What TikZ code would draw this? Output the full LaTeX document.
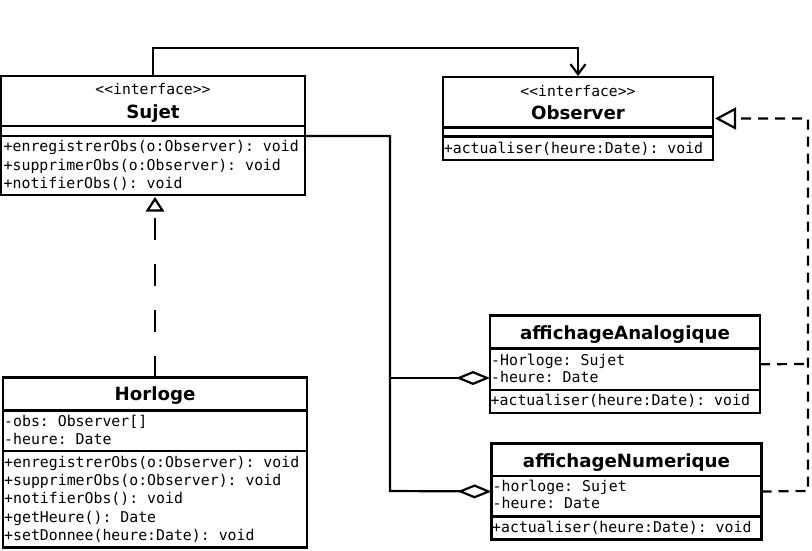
\documentclass[tikz,border=0pt]{standalone}
\usepackage{fontspec}
\setsansfont{DejaVu Sans}
\setmonofont{DejaVu Sans Mono}
\usetikzlibrary{arrows.meta}
\begin{document}
\begin{tikzpicture}[x=1pt,y=-1pt,
  ln/.style={line width=2.2pt, line join=miter},
  box/.style={draw, rectangle, line width=2.2pt, inner sep=0pt, outer sep=0pt, anchor=north west},
  mem/.style={font=\ttfamily\fontsize{14.85}{16}\selectfont, anchor=base west, inner sep=0pt},
  stereo/.style={font=\ttfamily\fontsize{14.7}{16}\selectfont, anchor=base, inner sep=0pt},
  ttl/.style={font=\sffamily\bfseries\fontsize{18.2}{20}\selectfont, anchor=base, inner sep=0pt},
  realA/.style={line width=2.2pt, dash pattern=on 22pt off 24pt},
  realB/.style={line width=2.2pt, dash pattern=on 10pt off 7pt},
]
\fill[white] (0,0) rectangle (812,550);
\useasboundingbox (0,0) rectangle (812,550);

% ---- Sujet ----
\node[box, minimum width=304pt, minimum height=119pt] (sujet) at (1,76) {};
\draw[ln] (1,126) -- (305,126);
\draw[ln] (1,136) -- (305,136);
\node[stereo] (sujetst) at (153,94.7) {<<interface>>};
\node[ttl] (sujett) at (153,118) {Sujet};
\node[mem] (sm1) at (3.5,151.6) {+enregistrerObs(o:Observer): void};
\node[mem] (sm2) at (3.5,170.1) {+supprimerObs(o:Observer): void};
\node[mem] (sm3) at (3.5,188.6) {+notifierObs(): void};

% ---- Observer ----
\node[box, minimum width=270pt, minimum height=83pt] (observer) at (443,77) {};
\draw[ln] (443,127.5) -- (713,127.5);
\draw[ln] (443,136.5) -- (713,136.5);
\node[stereo] (obsst) at (578,96.3) {<<interface>>};
\node[ttl] (obst) at (578,119) {Observer};
\node[mem] (om1) at (443.7,153.6) {+actualiser(heure:Date): void};

% ---- affichageAnalogique ----
\node[box, minimum width=270pt, minimum height=97.5pt] (analog) at (490,315.5) {};
\draw[ln] (490,348.5) -- (760,348.5);
\draw[ln] (490,390) -- (760,390);
\node[ttl] (atitle) at (625,339.6) {affichageAnalogique};
\node[mem] (aa1) at (491,365) {-Horloge: Sujet};
\node[mem] (aa2) at (491,382.6) {-heure: Date};
\node[mem] (am1) at (490.5,405) {+actualiser(heure:Date): void};

% ---- affichageNumerique ----
\node[box, minimum width=270pt, minimum height=96pt] (numer) at (491.5,443.5) {};
\draw[ln] (491.5,476) -- (761.5,476);
\draw[ln] (491.5,516.5) -- (761.5,516.5);
\node[ttl] (ntitle) at (626.5,467) {affichageNumerique};
\node[mem] (na1) at (492.5,491) {-horloge: Sujet};
\node[mem] (na2) at (492.5,508.3) {-heure: Date};
\node[mem] (nm1) at (492,532) {+actualiser(heure:Date): void};

% ---- Horloge ----
\node[box, minimum width=304pt, minimum height=170pt] (horloge) at (3,377.5) {};
\draw[ln] (3,410.5) -- (307,410.5);
\draw[ln] (3,451) -- (307,451);
\node[ttl] (htitle) at (155,400) {Horloge};
\node[mem] (ha1) at (4,426.8) {-obs: Observer[]};
\node[mem] (ha2) at (4,444.3) {-heure: Date};
\node[mem] (hm1) at (4,467) {+enregistrerObs(o:Observer): void};
\node[mem] (hm2) at (4,485.3) {+supprimerObs(o:Observer): void};
\node[mem] (hm3) at (4,503.6) {+notifierObs(): void};
\node[mem] (hm4) at (4,522) {+getHeure(): Date};
\node[mem] (hm5) at (4,540.3) {+setDonnee(heure:Date): void};

% ---- connectors ----
\coordinate (topbend) at (153,48);
\draw[ln, -{Straight Barb[length=10pt,width=15pt]}, shorten >=1pt]
  (sujet.north) -- (topbend) -| (observer.north);

\coordinate (sjr) at (305,136);
\coordinate (busA) at (390,378);
\coordinate (busN) at (390,491);
\coordinate (aggA) at (490,378);
\draw[ln, -{Diamond[open,length=34pt,width=14pt]}] (sjr) -| (busN) -- (numer.west);
\draw[ln, -{Diamond[open,length=34pt,width=14pt]}] (busA) -- (aggA);

% realisation Horloge -> Sujet (hollow triangle drawn as a shape)
\coordinate (htip) at (155,199);
\coordinate (hbase) at (155,210.5);
\coordinate (hbl) at (147.5,210.5);
\coordinate (hbr) at (162.5,210.5);
\draw[realA] (horloge.north) -- (hbase);
\draw[ln, line join=miter] (htip) -- (hbl) -- (hbr) -- cycle;

\coordinate (rN) at (808,491);
\coordinate (rA) at (808,364);
\draw[realB] (analog.east) -- (rA);
\draw[realB, -{Triangle[open,length=21pt,width=22pt]}, shorten >=2pt]
  (numer.east) -- (rN) |- (observer.east);
\end{tikzpicture}
\end{document}
